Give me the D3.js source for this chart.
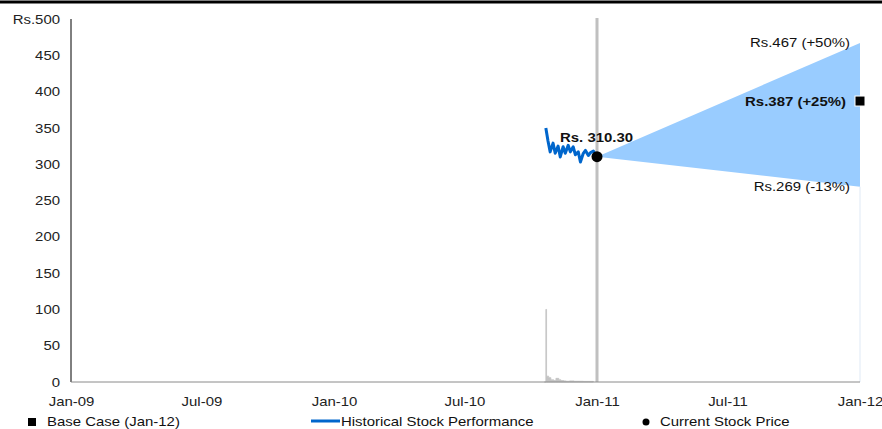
<!DOCTYPE html>
<html>
<head>
<meta charset="utf-8">
<script src="https://cdn.jsdelivr.net/npm/d3@7"></script>
<style>
  html, body { margin: 0; padding: 0; background: #fff; }
  svg { display: block; font-family: "Liberation Sans", Arial, sans-serif; }
</style>
</head>
<body>
<svg id="chart" width="882" height="429"></svg>
<script>
// Historical closing prices (Rs.)
const histDates = ["2010-10-22","2010-10-25","2010-10-28","2010-11-01","2010-11-04","2010-11-08","2010-11-11","2010-11-15","2010-11-18","2010-11-22","2010-11-25","2010-11-29","2010-12-02","2010-12-06","2010-12-09","2010-12-13","2010-12-16","2010-12-20","2010-12-23","2010-12-27","2011-01-01"];
const histPrices = [350, 332, 317, 329, 315, 325, 310, 324, 315, 326, 317, 324, 313, 317, 303, 315, 319, 312, 316, 318, 310.3];

// Trading volume shown along the base of the chart
const volDates = ["2010-10-20","2010-10-22","2010-10-23","2010-10-26","2010-10-29","2010-11-02","2010-11-05","2010-11-09","2010-11-12","2010-11-16","2010-11-19","2010-11-24","2010-11-30","2010-12-06","2010-12-13","2010-12-20","2010-12-27"];
const volValues = [0, 100, 8, 6, 3, 2, 5, 3, 2, 1.5, 1, 1.5, 1, 1, 0.8, 0.8, 0.5];

// Current price and one-year scenarios
const currentDate = "2011-01-01";
const currentPrice = 310.30;
const targetDate = "2012-01-01";
const bullPrice = 467, basePrice = 387, bearPrice = 269;
const bullLabel = "Rs.467 (+50%)", baseLabel = "Rs.387 (+25%)", bearLabel = "Rs.269 (-13%)";
const currentLabel = "Rs. 310.30";

// Axis ticks
const yTicks = [0, 50, 100, 150, 200, 250, 300, 350, 400, 450, 500];
const xTickDates = ["2009-01-01","2009-07-01","2010-01-01","2010-07-01","2011-01-01","2011-07-01","2012-01-01"];
const xTickLabels = ["Jan-09","Jul-09","Jan-10","Jul-10","Jan-11","Jul-11","Jan-12"];

const legendItems = ["Base Case  (Jan-12)", "Historical Stock Performance", "Current Stock Price"];

// Text is drawn slightly widened
const SX = 1.15;

const parse = d3.timeParse("%Y-%m-%d");
const svg = d3.select("#chart");

const x = d3.scaleTime()
  .domain([parse("2009-01-01"), parse("2012-01-01")])
  .range([71, 860]);
const y = d3.scaleLinear().domain([0, 500]).range([382, 19]);

// Place a widened text at (px, py)
function addText(g, px, py, str, opts = {}) {
  const t = g.append("text")
    .attr("transform", `translate(${px},${py}) scale(${SX},1)`)
    .attr("text-anchor", opts.anchor || "start")
    .text(str);
  if (opts.bold) t.attr("font-weight", "bold");
  return t;
}

// Top rule
svg.append("line").attr("x1", 0).attr("x2", 882).attr("y1", 2).attr("y2", 2)
  .attr("stroke", "#000").attr("stroke-width", 3);

// Volume area
const vol = volDates.map((d, i) => ({ d: parse(d), v: volValues[i] }));
svg.append("path").datum(vol)
  .attr("fill", "#c4c4c4")
  .attr("stroke", "#c4c4c4").attr("stroke-width", 0.8)
  .attr("d", d3.area().x(p => x(p.d)).y0(y(0)).y1(p => y(p.v)).curve(d3.curveStepAfter));

// Forecast cone
const cone = [
  [x(parse(currentDate)), y(currentPrice)],
  [x(parse(targetDate)), y(bullPrice)],
  [x(parse(targetDate)), y(bearPrice)]
];
svg.append("path").attr("d", d3.line()(cone) + "Z").attr("fill", "#99ccff");

// Faint right edge below the cone
svg.append("line")
  .attr("x1", x(parse(targetDate))).attr("x2", x(parse(targetDate)))
  .attr("y1", y(bearPrice)).attr("y2", y(0))
  .attr("stroke", "#dfe9f5").attr("stroke-width", 1);

// Today marker
svg.append("line")
  .attr("x1", x(parse(currentDate))).attr("x2", x(parse(currentDate)))
  .attr("y1", y(500) - 1).attr("y2", y(0))
  .attr("stroke", "#c0c0c0").attr("stroke-width", 3);

// Axes
const yAxis = d3.axisLeft(y).tickValues(yTicks).tickSize(0).tickPadding(11)
  .tickFormat(v => v === 500 ? "Rs.500" : String(v));
const gy = svg.append("g").attr("transform", "translate(71,0)").call(yAxis);
gy.select(".domain").attr("stroke", "#000").attr("d", `M0,${y(500)}V${y(0)}`);
gy.selectAll("text")
  .attr("font-size", 13).attr("fill", "#222").attr("font-family", "Liberation Sans, Arial, sans-serif")
  .attr("x", -11 / SX).attr("transform", `scale(${SX},1)`);

const xAxis = d3.axisBottom(x).tickValues(xTickDates.map(parse)).tickSize(0).tickPadding(15)
  .tickFormat((d, i) => xTickLabels[i]);
const gx = svg.append("g").attr("transform", `translate(0,${y(0)})`).call(xAxis);
gx.select(".domain").attr("stroke", "#8a8a8a").attr("d", `M${x.range()[0]},0H${x.range()[1]}`);
gx.selectAll("text")
  .attr("font-size", 13).attr("fill", "#222").attr("font-family", "Liberation Sans, Arial, sans-serif")
  .attr("transform", `scale(${SX},1)`);

// Historical price line
const hist = histDates.map((d, i) => ({ d: parse(d), v: histPrices[i] }));
svg.append("path").datum(hist)
  .attr("fill", "none").attr("stroke", "#0066cc").attr("stroke-width", 3)
  .attr("stroke-linejoin", "round")
  .attr("d", d3.line().x(p => x(p.d)).y(p => y(p.v)));

// Current price dot
svg.append("circle")
  .attr("cx", x(parse(currentDate))).attr("cy", y(currentPrice)).attr("r", 5.5)
  .attr("fill", "#000");

// Base case marker
svg.append("rect")
  .attr("x", x(parse(targetDate)) - 5).attr("y", y(basePrice) - 5)
  .attr("width", 10).attr("height", 10).attr("fill", "#000")
  .attr("stroke", "#fff").attr("stroke-width", 1);

// Labels
const lab = svg.append("g").attr("font-size", 13).attr("fill", "#111");
addText(lab, 560, y(currentPrice) - 15, currentLabel, { bold: true });
addText(lab, 850, y(bullPrice) + 4, bullLabel, { anchor: "end" });
addText(lab, 846, y(basePrice) + 5, baseLabel, { anchor: "end", bold: true });
addText(lab, 850, y(bearPrice) + 4, bearLabel, { anchor: "end" });

// Legend
const lg = svg.append("g").attr("font-size", 13).attr("fill", "#111");
lg.append("rect").attr("x", 28).attr("y", 418).attr("width", 8).attr("height", 8).attr("fill", "#000");
addText(lg, 47, 425.5, legendItems[0]);
lg.append("line").attr("x1", 311).attr("x2", 340).attr("y1", 421).attr("y2", 421)
  .attr("stroke", "#0066cc").attr("stroke-width", 3);
addText(lg, 341, 425.5, legendItems[1]);
lg.append("circle").attr("cx", 646).attr("cy", 422).attr("r", 3.5).attr("fill", "#000");
addText(lg, 660, 425.5, legendItems[2]);
</script>
</body>
</html>
